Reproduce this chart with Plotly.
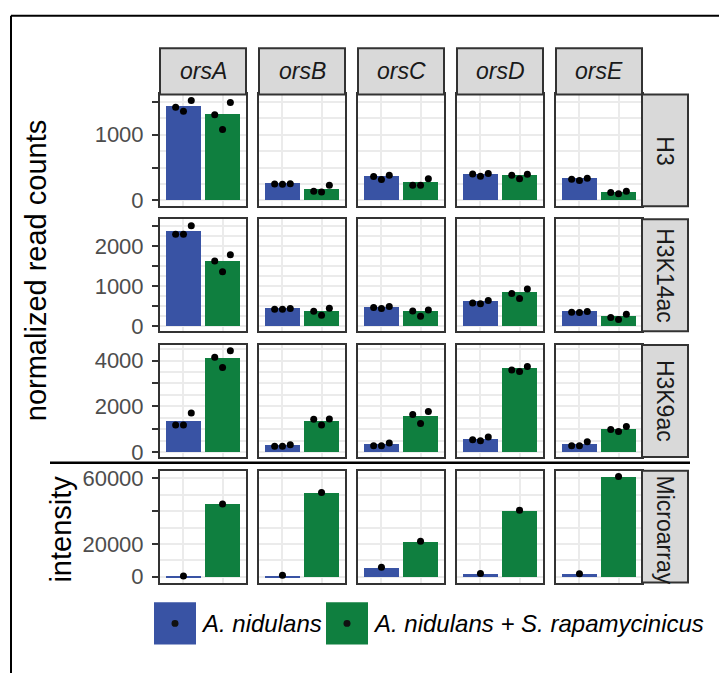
import plotly.graph_objects as go

W, H = 719, 681

genes = ["orsA", "orsB", "orsC", "orsD", "orsE"]
rows = ["H3", "H3K14ac", "H3K9ac", "Microarray"]
strains = ["A. nidulans", "A. nidulans + S. rapamycinicus"]

# replicate values (blue = A. nidulans, green = co-cultivation)
h3_an = [[1418, 1354, 1518], [250, 248, 252], [363, 318, 383], [403, 368, 408], [323, 303, 338]]
h3_ans = [[1303, 1079, 1488], [138, 128, 232], [232, 232, 328], [383, 328, 398], [120, 100, 140]]
h3_bar_an = [1433, 254, 363, 393, 333]
h3_bar_ans = [1303, 169, 273, 378, 124]

k14_an = [[2303, 2303, 2514], [425, 425, 440], [465, 441, 490], [578, 563, 644], [350, 343, 367]]
k14_ans = [[1632, 1362, 1789], [375, 277, 449], [382, 252, 407], [816, 693, 931], [220, 171, 301]]
k14_bar_an = [2384, 448, 473, 620, 367]
k14_bar_ans = [1624, 367, 367, 840, 252]

k9_an = [[1186, 1186, 1706], [247, 247, 320], [277, 277, 390], [537, 494, 650], [277, 277, 450]]
k9_ans = [[4144, 3698, 4434], [1429, 1186, 1446], [1645, 1243, 1775], [3594, 3525, 3741], [983, 896, 1113]]
k9_bar_an = [1373, 290, 333, 593, 333]
k9_bar_ans = [4100, 1373, 1589, 3668, 1026]

micro_an = [[500], [900], [5800], [2000], [1800]]
micro_ans = [[44400], [51400], [21600], [40600], [61200]]
micro_bar_an = [500, 900, 5800, 2000, 1800]
micro_bar_ans = [44400, 51400, 21600, 40600, 61200]

row_data = [
    (h3_an, h3_ans, h3_bar_an, h3_bar_ans),
    (k14_an, k14_ans, k14_bar_an, k14_bar_ans),
    (k9_an, k9_ans, k9_bar_an, k9_bar_ans),
    (micro_an, micro_ans, micro_bar_an, micro_bar_ans),
]

y_ranges = [[-90, 1612], [-123, 2678], [-215, 4688], [-3600, 64800]]
y_ticks = [[0, 500, 1000, 1500], [0, 500, 1000, 1500, 2000, 2500],
           [0, 1000, 2000, 3000, 4000], [0, 20000, 40000, 60000]]
y_ticktext = [["0", "", "1000", ""], ["0", "", "1000", "", "2000", ""],
              ["0", "", "2000", "", "4000"], ["0", "20000", "", "60000"]]
y_minor = [[250, 750, 1250], [250, 750, 1250, 1750, 2250],
           [500, 1500, 2500, 3500, 4500], [10000, 30000, 50000]]

BLUE = "#3953A4"
GREEN = "#0F7F3F"
FONT = "Liberation Sans"

col_left = [160 + 99 * c for c in range(5)]
panel_w = 86
row_top = [92, 219, 347, 475]
panel_h = 114

def px(x):
    return x / W

def py(y):
    return 1 - y / H

fig = go.Figure()
layout = {}
jit = [-0.2, 0.0, 0.2]

for r in range(4):
    reps_an, reps_ans, bar_an, bar_ans = row_data[r]
    for c in range(5):
        k = r * 5 + c + 1
        xa = "x" if k == 1 else f"x{k}"
        ya = "y" if k == 1 else f"y{k}"
        fig.add_trace(go.Bar(x=[1, 2], y=[bar_an[c], bar_ans[c]], width=0.9,
                             marker=dict(color=[BLUE, GREEN], line=dict(width=0)),
                             xaxis=xa, yaxis=ya, showlegend=False, hoverinfo="skip"))
        dx, dy = [], []
        for g, reps in ((1, reps_an[c]), (2, reps_ans[c])):
            offs = jit if len(reps) == 3 else [0.0]
            for o, v in zip(offs, reps):
                dx.append(g + o)
                dy.append(v)
        fig.add_trace(go.Scatter(x=dx, y=dy, mode="markers",
                                 marker=dict(color="black", size=7),
                                 xaxis=xa, yaxis=ya, showlegend=False, hoverinfo="skip"))
        xname = "xaxis" if k == 1 else f"xaxis{k}"
        yname = "yaxis" if k == 1 else f"yaxis{k}"
        layout[xname] = dict(
            domain=[px(col_left[c]), px(col_left[c] + panel_w)],
            anchor=ya, range=[0.4, 2.6], tickvals=[1, 2], showticklabels=False,
            ticks="", showgrid=True, gridcolor="#EBEBEB", gridwidth=1.5,
            showline=True, mirror=True, linecolor="#333333", linewidth=2,
            zeroline=False, fixedrange=True)
        first = c == 0
        layout[yname] = dict(
            domain=[py(row_top[r] + panel_h), py(row_top[r])],
            anchor=xa, range=y_ranges[r], tickmode="array",
            tickvals=y_ticks[r], ticktext=y_ticktext[r],
            showticklabels=first, ticks="outside" if first else "",
            ticklen=6, tickwidth=2, tickcolor="#333333",
            ticklabelstandoff=4,
            tickfont=dict(family=FONT, size=22, color="#4D4D4D"),
            showgrid=True, gridcolor="#EBEBEB", gridwidth=1.5,
            minor=dict(tickvals=y_minor[r], showgrid=True, gridcolor="#EBEBEB",
                       gridwidth=1.5, ticks=""),
            showline=True, mirror=True, linecolor="#333333", linewidth=2,
            zeroline=False, fixedrange=True)

shapes = []
annotations = []

def ann(x, y, text, size, color, angle=0, xanchor="center"):
    annotations.append(dict(xref="paper", yref="paper", x=px(x), y=py(y),
                            xanchor=xanchor, yanchor="middle", text=text,
                            showarrow=False, textangle=angle,
                            font=dict(family=FONT, size=size, color=color)))

# column strips
for c, g in enumerate(genes):
    x0, x1 = col_left[c], col_left[c] + panel_w
    shapes.append(dict(type="rect", xref="paper", yref="paper",
                       x0=px(x0), x1=px(x1), y0=py(92), y1=py(45),
                       fillcolor="#D9D9D9", line=dict(color="#333333", width=2)))
    ann((x0 + x1) / 2, 68.5, f"<i>{g}</i>", 23, "#1A1A1A")
# row strips
for r, name in enumerate(rows):
    y0, y1 = row_top[r], row_top[r] + panel_h
    shapes.append(dict(type="rect", xref="paper", yref="paper",
                       x0=px(642), x1=px(688), y0=py(y1), y1=py(y0),
                       fillcolor="#D9D9D9", line=dict(color="#333333", width=2)))
    ann(665, (y0 + y1) / 2 + (3 if name == "Microarray" else 0), name, 23, "#1A1A1A", angle=90)

# axis titles
ann(36, 272, "normalized read counts", 29, "black", angle=-90)
ann(61, 534, "intensity", 29, "black", angle=-90)

# separator line and outer frame
shapes.append(dict(type="line", xref="paper", yref="paper", x0=px(50), x1=px(690),
                   y0=py(467), y1=py(467), line=dict(color="black", width=2.5)))
shapes.append(dict(type="line", xref="paper", yref="paper", x0=px(11), x1=px(719),
                   y0=py(12), y1=py(12), line=dict(color="black", width=2)))
shapes.append(dict(type="line", xref="paper", yref="paper", x0=px(11), x1=px(11),
                   y0=py(12), y1=py(681), line=dict(color="black", width=2)))

# legend
legend_keys = [(154, 196, BLUE, strains[0]), (326, 368, GREEN, strains[1])]
for x0, x1, col, lab in legend_keys:
    shapes.append(dict(type="rect", xref="paper", yref="paper",
                       x0=px(x0), x1=px(x1), y0=py(652), y1=py(609),
                       fillcolor=col, line=dict(width=0)))
    cx = (x0 + x1) / 2
    shapes.append(dict(type="circle", xref="paper", yref="paper",
                       x0=px(cx - 3.5), x1=px(cx + 3.5), y0=py(634), y1=py(627),
                       fillcolor="#111111", line=dict(width=0)))
    ann(x1 + 3, 630.5, f"<i>{lab}</i>", 24, "black", xanchor="left")

fig.update_layout(width=W, height=H, margin=dict(l=0, r=0, t=0, b=0),
                  paper_bgcolor="white", plot_bgcolor="white",
                  shapes=shapes, annotations=annotations, bargap=0,
                  showlegend=False, **layout)

fig.write_html("out.html")
